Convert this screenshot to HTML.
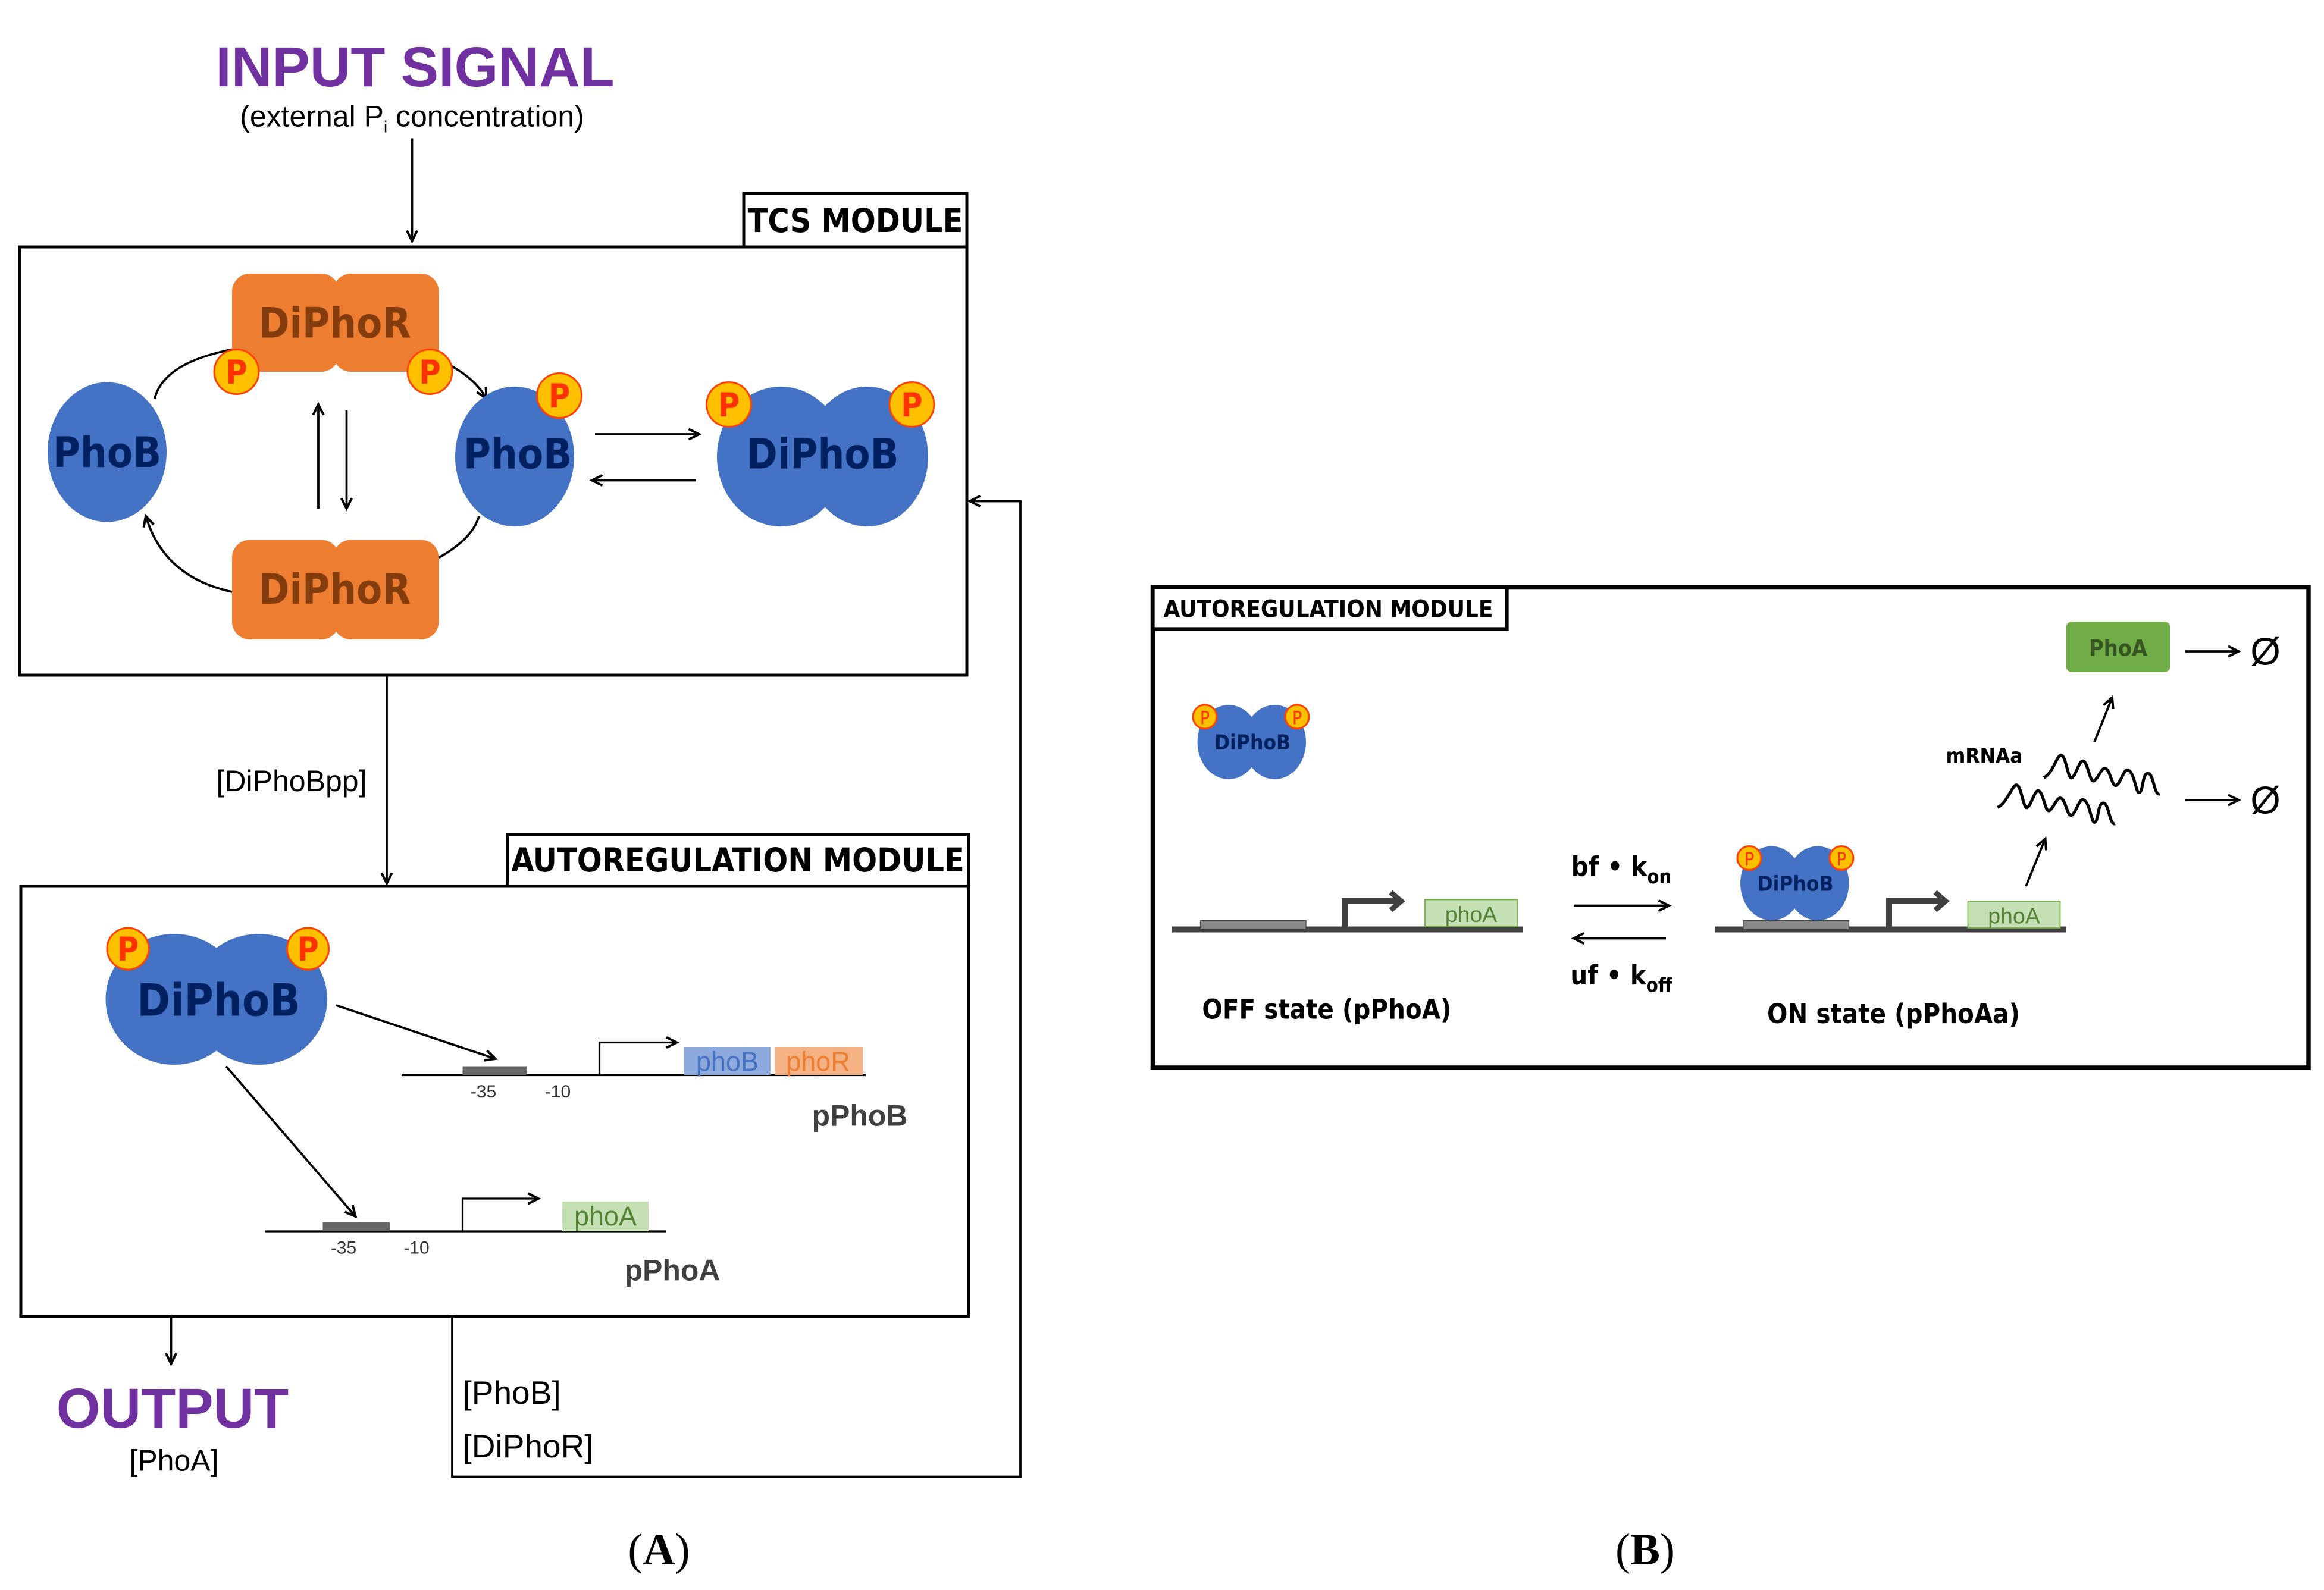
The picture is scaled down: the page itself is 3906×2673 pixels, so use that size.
<!DOCTYPE html>
<html><head><meta charset="utf-8"><style>html,body{margin:0;padding:0;background:#fff}svg{display:block}</style></head>
<body>
<svg width="3906" height="2673" viewBox="0 0 1562.4 1069.2" xmlns="http://www.w3.org/2000/svg" font-family="Liberation Sans, sans-serif">
<defs>
<marker id="a" markerWidth="10" markerHeight="10" refX="8" refY="5" orient="auto" markerUnits="userSpaceOnUse"><path d="M1,1.5 L8,5 L1,8.5" fill="none" stroke="#000" stroke-width="1.6"/></marker>
<marker id="g" markerWidth="16" markerHeight="16" refX="10" refY="8" orient="auto" markerUnits="userSpaceOnUse"><path d="M3,2 L10,8 L3,14" fill="none" stroke="#404040" stroke-width="3.5"/></marker>
</defs>
<rect width="1563" height="1070" fill="#fff"/>
<!-- INPUT -->
<text x="279" y="58" font-size="38" font-weight="bold" fill="#7030A0" text-anchor="middle">INPUT SIGNAL</text>
<text x="277" y="85" font-size="20" text-anchor="middle">(external P<tspan font-size="11" dy="4">i</tspan><tspan dy="-4"> concentration)</tspan></text>
<line x1="277" y1="93" x2="277" y2="162" stroke="#000" stroke-width="1.5" marker-end="url(#a)"/>
<!-- TCS -->
<rect x="13" y="166" width="637" height="288" fill="none" stroke="#000" stroke-width="2"/>
<rect x="500" y="130" width="150" height="36" fill="#fff" stroke="#000" stroke-width="2"/>
<text x="575" y="156" font-size="22" font-weight="bold" text-anchor="middle" font-family="DejaVu Sans Condensed, Liberation Sans, sans-serif">TCS MODULE</text>
<g fill="#ED7D31"><rect x="156" y="184" width="72" height="66" rx="12"/><rect x="224" y="184" width="71" height="66" rx="12"/>
<rect x="156" y="363" width="72" height="67" rx="12"/><rect x="224" y="363" width="71" height="67" rx="12"/></g>
<g font-size="28" font-weight="bold" fill="#843C0C" text-anchor="middle" font-family="DejaVu Sans Condensed, Liberation Sans, sans-serif"><text x="225" y="227">DiPhoR</text><text x="225" y="406">DiPhoR</text></g>
<g fill="none" stroke="#000" stroke-width="1.5">
<path d="M104,268 Q110,244 156,235"/>
<path d="M295,242 Q318,252 327,268" marker-end="url(#a)"/>
<path d="M322,347 Q318,362 295,375"/>
<path d="M156,398 Q110,388 98,347" marker-end="url(#a)"/>
<line x1="214" y1="342" x2="214" y2="272" marker-end="url(#a)"/>
<line x1="233" y1="276" x2="233" y2="342" marker-end="url(#a)"/>
<line x1="400" y1="292" x2="470" y2="292" marker-end="url(#a)"/>
<line x1="468" y1="323" x2="398" y2="323" marker-end="url(#a)"/>
</g>
<g fill="#4472C4"><ellipse cx="72" cy="304" rx="40" ry="47"/><ellipse cx="346" cy="307" rx="40" ry="47"/>
<ellipse cx="525" cy="307" rx="43" ry="47"/><ellipse cx="583" cy="307" rx="41" ry="47"/>
<ellipse cx="117" cy="672" rx="46" ry="44"/><ellipse cx="174" cy="672" rx="46" ry="44"/>
<ellipse cx="826" cy="499" rx="21" ry="25"/><ellipse cx="857" cy="499" rx="21" ry="25"/>
<ellipse cx="1191" cy="594" rx="21" ry="25"/><ellipse cx="1222" cy="594" rx="21" ry="25"/></g>
<g font-weight="bold" fill="#002060" text-anchor="middle" font-family="DejaVu Sans Condensed, Liberation Sans, sans-serif">
<text x="72" y="314" font-size="28">PhoB</text><text x="348" y="315" font-size="28">PhoB</text><text x="553" y="315" font-size="28">DiPhoB</text>
<text x="147" y="683" font-size="30">DiPhoB</text><text x="842" y="504" font-size="14">DiPhoB</text><text x="1207" y="599" font-size="14">DiPhoB</text></g>
<g fill="#FFC000" stroke="#FF4000" stroke-width="1.2">
<circle cx="159" cy="250" r="15"/><circle cx="289" cy="250" r="15"/><circle cx="376" cy="266" r="15"/><circle cx="490" cy="272" r="15"/><circle cx="613" cy="272" r="15"/>
<circle cx="86" cy="638" r="14"/><circle cx="207" cy="638" r="14"/>
<circle cx="810" cy="482" r="8"/><circle cx="872" cy="482" r="8"/><circle cx="1176" cy="577" r="8"/><circle cx="1238" cy="577" r="8"/></g>
<g fill="#FF3300" font-weight="bold" text-anchor="middle" font-family="DejaVu Sans Condensed, Liberation Sans, sans-serif">
<g font-size="22"><text x="159" y="258">P</text><text x="289" y="258">P</text><text x="376" y="274">P</text><text x="490" y="280">P</text><text x="613" y="280">P</text><text x="86" y="646">P</text><text x="207" y="646">P</text></g>
<g font-size="12" font-weight="normal"><text x="810" y="487">P</text><text x="872" y="487">P</text><text x="1176" y="582">P</text><text x="1238" y="582">P</text></g></g>
<!-- connectors -->
<g fill="none" stroke="#000" stroke-width="1.5">
<line x1="260" y1="454" x2="260" y2="594" marker-end="url(#a)"/>
<polyline points="304,885 304,993 686,993 686,337 652,337" marker-end="url(#a)"/>
<line x1="115" y1="885" x2="115" y2="917" marker-end="url(#a)"/>
<line x1="226" y1="676" x2="333" y2="712" marker-end="url(#a)"/>
<line x1="152" y1="717" x2="239" y2="818" marker-end="url(#a)"/>
</g>
<text x="196" y="532" font-size="20" text-anchor="middle">[DiPhoBpp]</text>
<!-- Autoreg A -->
<rect x="14" y="596" width="637" height="289" fill="none" stroke="#000" stroke-width="2"/>
<rect x="341" y="561" width="310" height="35" fill="#fff" stroke="#000" stroke-width="2"/>
<text x="496" y="586" font-size="22" font-weight="bold" text-anchor="middle" font-family="DejaVu Sans Condensed, Liberation Sans, sans-serif">AUTOREGULATION MODULE</text>
<g stroke="#000" stroke-width="1.3" fill="none">
<line x1="270" y1="723" x2="582" y2="723"/><line x1="178" y1="828" x2="448" y2="828"/>
<polyline points="403,723 403,701 455,701" marker-end="url(#a)"/>
<polyline points="311,828 311,806 362,806" marker-end="url(#a)"/></g>
<rect x="311" y="717" width="43" height="6" fill="#666"/><rect x="217" y="822" width="45" height="6" fill="#666"/>
<g font-size="12" fill="#333" text-anchor="middle"><text x="325" y="738">-35</text><text x="375" y="738">-10</text><text x="231" y="843">-35</text><text x="280" y="843">-10</text></g>
<rect x="460" y="704" width="58" height="19" fill="#8EA9DB"/><rect x="521" y="704" width="59" height="19" fill="#F4B183"/>
<rect x="378" y="808" width="58" height="20" fill="#C5E0B4"/>
<g font-size="18" text-anchor="middle"><text x="489" y="720" fill="#4472C4">phoB</text><text x="550" y="720" fill="#ED7D31">phoR</text><text x="407" y="824" fill="#548235">phoA</text></g>
<g font-size="20" font-weight="bold" fill="#404040" text-anchor="middle"><text x="578" y="757">pPhoB</text><text x="452" y="861">pPhoA</text></g>
<text x="116" y="960" font-size="38" font-weight="bold" fill="#7030A0" text-anchor="middle">OUTPUT</text>
<text x="117" y="989" font-size="20" text-anchor="middle">[PhoA]</text>
<text x="311" y="944" font-size="22">[PhoB]</text><text x="311" y="980" font-size="22">[DiPhoR]</text>
<g font-family="Liberation Serif, serif" font-size="30" text-anchor="middle"><text x="443" y="1052">(<tspan font-weight="bold">A</tspan>)</text><text x="1106" y="1052">(<tspan font-weight="bold">B</tspan>)</text></g>
<!-- Panel B -->
<rect x="775" y="395" width="777" height="323" fill="none" stroke="#000" stroke-width="3"/>
<rect x="775" y="395" width="238" height="28" fill="#fff" stroke="#000" stroke-width="2.5"/>
<text x="893" y="415" font-size="16" font-weight="bold" text-anchor="middle" font-family="DejaVu Sans Condensed, Liberation Sans, sans-serif">AUTOREGULATION MODULE</text>
<g stroke="#404040" stroke-width="4" fill="none"><line x1="788" y1="625" x2="1024" y2="625"/><line x1="1153" y1="625" x2="1389" y2="625"/>
<polyline points="904,623 904,606 942,606" marker-end="url(#g)"/><polyline points="1270,623 1270,606 1308,606" marker-end="url(#g)"/></g>
<rect x="807" y="619" width="71" height="6" fill="#888" stroke="#444" stroke-width="0.5"/><rect x="1172" y="619" width="71" height="6" fill="#888" stroke="#444" stroke-width="0.5"/>
<rect x="958" y="605" width="62" height="18" fill="#C5E0B4" stroke="#70AD47" stroke-width="0.7"/><rect x="1323" y="606" width="62" height="18" fill="#C5E0B4" stroke="#70AD47" stroke-width="0.7"/>
<g font-size="15" fill="#548235" text-anchor="middle"><text x="989" y="620">phoA</text><text x="1354" y="621">phoA</text></g>
<g font-weight="bold" font-size="18" text-anchor="middle" font-family="DejaVu Sans Condensed, Liberation Sans, sans-serif">
<text x="892" y="685">OFF state (pPhoA)</text><text x="1273" y="688">ON state (pPhoAa)</text>
<text x="1090" y="589">bf • k<tspan font-size="13" dy="5">on</tspan></text><text x="1090" y="662">uf • k<tspan font-size="13" dy="5">off</tspan></text>
<text x="1334" y="513" font-size="14">mRNAa</text></g>
<g fill="none" stroke="#000" stroke-width="1.5">
<line x1="1058" y1="609" x2="1122" y2="609" marker-end="url(#a)"/><line x1="1120" y1="631" x2="1058" y2="631" marker-end="url(#a)"/>
<line x1="1362" y1="596" x2="1375" y2="564" marker-end="url(#a)"/><line x1="1408" y1="499" x2="1420" y2="469" marker-end="url(#a)"/>
<line x1="1469" y1="438" x2="1505" y2="438" marker-end="url(#a)"/><line x1="1469" y1="538" x2="1505" y2="538" marker-end="url(#a)"/>
<path d="M1374,523 C1380,520 1382,510 1385,508 C1389,506 1390,525 1393,523 C1396,521 1398,510 1401,512 C1404,514 1405,527 1408,525 C1411,523 1413,515 1416,517 C1419,519 1420,530 1423,528 C1426,526 1428,516 1431,518 C1435,520 1436,533 1438,533 C1441,533 1440,520 1444,520 C1448,520 1448,535 1452,534" stroke-width="2"/>
<path d="M1343,543 C1349,540 1352,530 1355,528 C1359,526 1360,545 1363,543 C1366,541 1368,530 1371,532 C1374,534 1375,547 1378,545 C1381,543 1383,535 1386,537 C1389,539 1390,550 1393,548 C1396,546 1398,536 1401,538 C1405,540 1406,553 1408,553 C1411,553 1410,540 1414,540 C1418,540 1418,555 1422,554" stroke-width="2"/>
</g>
<rect x="1389" y="418" width="70" height="34" rx="4" fill="#70AD47"/>
<text x="1424" y="441" font-size="15" font-weight="bold" fill="#375623" text-anchor="middle" font-family="DejaVu Sans Condensed, Liberation Sans, sans-serif">PhoA</text>
<g font-size="26" text-anchor="middle"><text x="1523" y="447">Ø</text><text x="1523" y="547">Ø</text></g>
</svg>
</body></html>
